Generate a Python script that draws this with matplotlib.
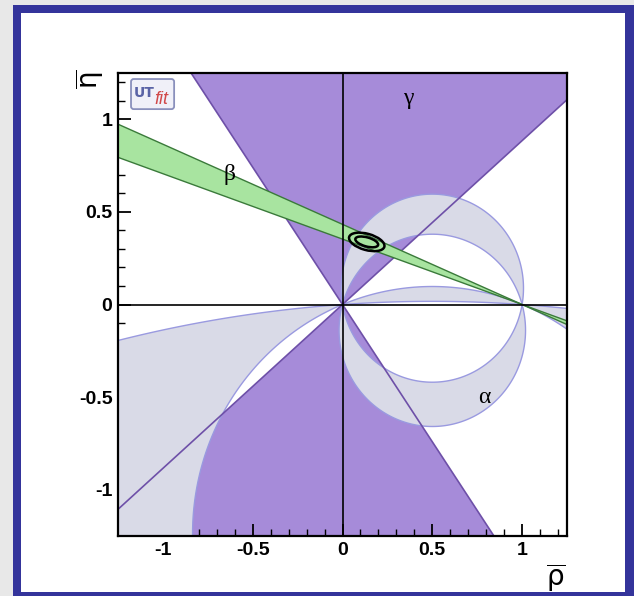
import numpy as np
import matplotlib.pyplot as plt
from matplotlib.patches import Wedge, Polygon, Ellipse, Rectangle, FancyBboxPatch
from matplotlib.ticker import MultipleLocator, FuncFormatter

plt.rcParams['axes.unicode_minus'] = False

# plane limits
rho_lim = [-1.25, 1.25]
eta_lim = [-1.25, 1.25]

# constraints (degrees)
gamma_deg = [41.5, 124.0]                       # angle at (0,0), mod 180
beta_deg = [19.45, 23.4]                        # angle at (1,0)
alpha_bands = [[80.0, 105.6], [158.0, 176.1]]   # angle at the apex, mod 180

# fit result contours: centre, full axes, tilt
fit_center = [0.135, 0.338]
fit_width = [0.203, 0.131]
fit_height = [0.088, 0.049]
fit_angle = -15.0

# label positions
greek_labels = ['\u03b3', '\u03b2', '\u03b1']
greek_rho = [0.365, -0.63, 0.79]
greek_eta = [1.115, 0.70, -0.50]

purple = '#a68bd9'
purple_edge = '#6e50a8'
alpha_fill = '#d9dae7'
alpha_edge = '#9a9ae0'
green_fill = '#a8e4a0'
green_edge = '#3a7a3a'


def arc(a_deg, upper, n=3000):
    # circle through (0,0) and (1,0) seen under angle a from its points
    a = np.radians(a_deg)
    c = 0.5 / np.tan(a)
    r = 0.5 / np.sin(a)
    p0 = np.arctan2(-c, -0.5)
    p1 = np.arctan2(-c, 0.5)
    if upper:
        end = p0 if p0 > p1 else p0 + 2 * np.pi
        t = np.linspace(p1, end, n)
    else:
        end = p1 if p1 > p0 else p1 + 2 * np.pi
        t = np.linspace(p0, end, n)
    return np.column_stack([0.5 + r * np.cos(t), c + r * np.sin(t)])


fig = plt.figure(figsize=(6.34, 5.96), dpi=100, facecolor='#e8e8e8')
W, H = 634.0, 596.0
fig.patches.append(Rectangle((13 / W, 0), 1 - 13 / W, 1 - 5 / H, transform=fig.transFigure,
                             facecolor='#34349b', edgecolor='none', zorder=-10))
fig.patches.append(Rectangle((21 / W, 4 / H), (625 - 21) / W, (592 - 13) / H,
                             transform=fig.transFigure, facecolor='white',
                             edgecolor='none', zorder=-9))

ax = fig.add_axes([118 / W, 1 - 536 / H, 449 / W, 463 / H])
ax.set_xlim(rho_lim)
ax.set_ylim(eta_lim)

# gamma: two opposite wedges from the origin
for off in [0, 180]:
    ax.add_patch(Wedge((0, 0), 10, gamma_deg[0] + off, gamma_deg[1] + off,
                       facecolor=purple, edgecolor='none', zorder=1))

# alpha: regions between pairs of circles through (0,0) and (1,0)
for a1, a2 in alpha_bands:
    for upper in [True, False]:
        pts = np.vstack([arc(a1, upper), arc(a2, upper)[::-1]])
        ax.add_patch(Polygon(pts, closed=True, facecolor=alpha_fill,
                             edgecolor=alpha_edge, lw=1.0, zorder=2))

# gamma boundaries
for g in gamma_deg:
    d = np.array([np.cos(np.radians(g)), np.sin(np.radians(g))])
    ax.plot([-10 * d[0], 10 * d[0]], [-10 * d[1], 10 * d[1]], color=purple_edge,
            lw=1.2, zorder=3)

# beta band through (1,0)
x = np.linspace(rho_lim[0], rho_lim[1], 50)
y_lo = (1 - x) * np.tan(np.radians(beta_deg[0]))
y_hi = (1 - x) * np.tan(np.radians(beta_deg[1]))
ax.fill_between(x, y_lo, y_hi, facecolor=green_fill, edgecolor='none', zorder=4)
ax.plot(x, y_lo, color=green_edge, lw=1.0, zorder=4)
ax.plot(x, y_hi, color=green_edge, lw=1.0, zorder=4)

ax.axhline(0, color='black', lw=1.2, zorder=5)
ax.axvline(0, color='black', lw=1.2, zorder=5)

for w, h in zip(fit_width, fit_height):
    ax.add_patch(Ellipse(fit_center, w, h, angle=fit_angle, facecolor='none',
                         edgecolor='black', lw=1.8, zorder=6))

for s, xr, ye in zip(greek_labels, greek_rho, greek_eta):
    ax.text(xr, ye, s, ha='center', va='center', fontsize=17,
            family='Liberation Serif', zorder=7)

# UTfit logo
ax.add_patch(FancyBboxPatch((0.029, 0.922), 0.096, 0.065, transform=ax.transAxes,
                            boxstyle='round,pad=0,rounding_size=0.006',
                            facecolor='#f0f0f8', edgecolor='#8a90bc', lw=1.3, zorder=8))
ax.text(0.035, 0.948, 'UT', transform=ax.transAxes, fontsize=10, weight='bold',
        color='#5b64a6', family=['Liberation Sans Narrow', 'DejaVu Sans'], zorder=9)
ax.text(0.080, 0.932, 'fit', transform=ax.transAxes, fontsize=13, style='italic',
        color='#d04848', family='Liberation Sans', zorder=9)

# axes styling
ax.xaxis.set_major_locator(MultipleLocator(0.5))
ax.xaxis.set_minor_locator(MultipleLocator(0.1))
ax.yaxis.set_major_locator(MultipleLocator(0.5))
ax.yaxis.set_minor_locator(MultipleLocator(0.1))
fmt = FuncFormatter(lambda v, p: '%g' % round(v, 2))
ax.xaxis.set_major_formatter(fmt)
ax.yaxis.set_major_formatter(fmt)
ax.tick_params(which='both', direction='in', top=False, right=False)
ax.tick_params(which='major', length=9, width=1.3, pad=4)
ax.tick_params(which='minor', length=5, width=1.0)
for lab in ax.get_xticklabels() + ax.get_yticklabels():
    lab.set_fontsize(14)
    lab.set_fontweight('bold')
    lab.set_family('Liberation Sans')
for sp in ax.spines.values():
    sp.set_linewidth(1.6)
    sp.set_zorder(10)

ax.text(-0.062, 1.008, r'$\overline{\mathrm{\eta}}$', transform=ax.transAxes, rotation=90,
        ha='center', va='top', fontsize=20)
ax.text(0.996, -0.09, r'$\overline{\mathrm{\rho}}$', transform=ax.transAxes,
        ha='right', va='center', fontsize=20)

fig.savefig('out.png', dpi=100, facecolor=fig.get_facecolor())
